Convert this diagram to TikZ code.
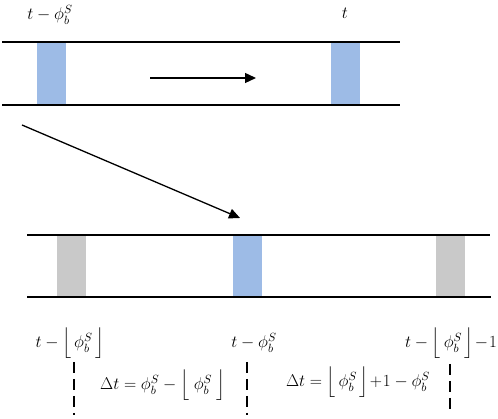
\RequirePackage{fix-cm}
\documentclass[tikz,border=0pt]{standalone}
\usepackage{amsmath,amssymb}
\usetikzlibrary{arrows.meta}
\definecolor{slotblue}{RGB}{157,187,230}
\definecolor{slotgray}{RGB}{201,201,201}
\newcommand{\lblsize}{\fontsize{17}{20}\selectfont}
\tikzset{
    railline/.style={line width=1.2pt, black},
    % slots on the rails
    blueslot/.style={fill=slotblue, draw=none},
    grayslot/.style={fill=slotgray, draw=none},
    mainarrow/.style={
        line width=1.3pt,
        black,
        -{Triangle[length=11pt, width=10pt]}
    },
    markline/.style={line width=1.4pt, black, dash pattern=on 11pt off 6pt},
    lbl/.style={inner sep=1pt, font={\lblsize}}
}
\begin{document}
\begin{tikzpicture}[x=1pt,y=-1pt]
    \useasboundingbox (0,0) rectangle (498,419);

    % upper rail
    \fill[blueslot] (37,42) rectangle (66,105);
    \fill[blueslot] (331,42) rectangle (360,105);
    \draw[railline] (2,42) -- (400,42);
    \draw[railline] (2,105) -- (400,105);

    \node[lbl] (tphi) at (50,15) {$t-\phi_b^S$};
    \node[lbl] (tnow) at (345,13) {$t$};

    \coordinate (h1) at (150,78);
    \coordinate (h2) at (256,78);
    \draw[mainarrow] (h1) -- (h2);

    % lower rail
    \fill[grayslot] (57,235) rectangle (86,297);
    \fill[blueslot] (233,235) rectangle (262,297);
    \fill[grayslot] (436,235) rectangle (465,297);
    \draw[railline] (27,235) -- (490,235);
    \draw[railline] (27,297) -- (491,297);

    \coordinate (d1) at (22,125);
    \coordinate (d2) at (240,218);
    \draw[mainarrow] (d1) -- (d2);

    \node[lbl] (lfl) at (70,343) {$t-\Big\lfloor\,\phi_b^S\,\Big\rfloor$};
    \node[lbl] (lmid) at (254,343) {$t-\phi_b^S$};
    \node[lbl] (lfr) at (451,343) {$t-\Big\lfloor\,\phi_b^S\,\Big\rfloor\!-\!1$};

    \coordinate (m1) at (74,415);
    \coordinate (m2) at (247,415);
    \coordinate (m3) at (450,415);
    \draw[markline] (74,362) -- (m1);
    \draw[markline] (247,362) -- (m2);
    \draw[markline] (450,364) -- (m3);

    \node[lbl] (dtl) at (163,385) {$\Delta t=\phi_b^S-\Big\lfloor\;\phi_b^S\;\Big\rfloor$};
    \node[lbl] (dtr) at (358,382) {$\Delta t=\Big\lfloor\,\phi_b^S\,\Big\rfloor\!+\!1-\phi_b^S$};
\end{tikzpicture}
\end{document}
